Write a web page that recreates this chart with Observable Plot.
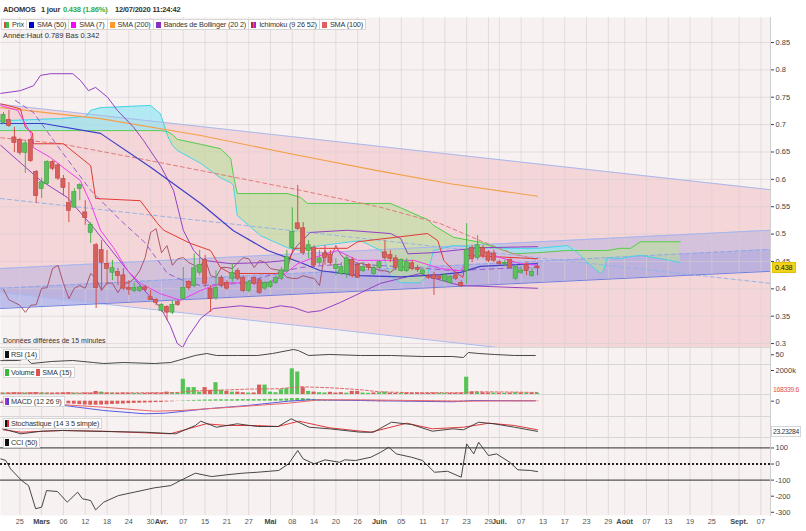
<!DOCTYPE html>
<html><head><meta charset="utf-8">
<script src="https://cdn.jsdelivr.net/npm/d3@7"></script>
<script src="https://cdn.jsdelivr.net/npm/@observablehq/plot@0.6"></script>
<style>
body{margin:0;background:#fff;}
#wrap{position:relative;width:806px;height:531px;overflow:hidden;background:#fff;font-family:"Liberation Sans",Arial,sans-serif;color:#333;}
#wrap svg{position:absolute;left:0;display:block;overflow:visible}
.ov{position:absolute;white-space:nowrap;font-size:7.5px;line-height:9px;}
.hd{position:absolute;top:5px;font-size:7.5px;font-weight:bold;color:#333;white-space:nowrap;letter-spacing:-0.2px}
.it{display:inline-block;border:1px solid #d6d6d6;background:#fff;padding:0 2px 0 2px;margin-right:-1px;font-size:7.3px;line-height:9px;color:#333;vertical-align:top;letter-spacing:-0.15px}
.sw{display:inline-block;width:5px;height:6px;margin-right:3px;vertical-align:-0.5px}
.tag{position:absolute;white-space:nowrap;font-size:7.3px;line-height:9px;background:#fff;border:1px solid #d6d6d6;padding:0 2px 0 1px;color:#333;letter-spacing:-0.15px}
</style></head><body><div id="wrap"></div>
<script>
// ---------- DATA ----------
const tickIdx = [0,4,8,12,16,20,24,26,30,34,38,42,46,50,54,58,62,66,70,74,78,82,86,88,92,96,100,104,108,111,115,119,123,127,132,136];
const tickLbl = ["25","Mars","06","12","18","24","30","Avr.","07","15","21","27","Mai","08","14","20","26","Juin","05","11","17","23","29","Juil.","07","13","17","23","29","Août","07","13","19","25","Sept.","07"];
const monthLbl = ["Mars","Avr.","Mai","Juin","Juil.","Août","Sept."];
const priceTicks = [0.3,0.35,0.4,0.45,0.5,0.55,0.6,0.65,0.7,0.75,0.8,0.85];

const candleStart = -3;
const open  = [.704,.708,.676,.671,.649,.671,.613,.583,.592,.631,.625,.600,.556,.549,.583,.539,.503,.479,.470,.445,.430,.430,.424,.401,.397,.397,.402,.384,.379,.360,.366,.357,.375,.382,.412,.406,.430,.452,.399,.384,.419,.410,.419,.432,.419,.397,.419,.415,.401,.404,.411,.419,.433,.475,.519,.510,.470,.474,.448,.464,.461,.437,.428,.428,.452,.443,.433,.443,.428,.439,.466,.461,.455,.433,.433,.446,.437,.428,.422,.424,.422,.415,.411,.424,.410,.433,.474,.457,.474,.466,.464,.448,.446,.452,.419,.430,.443,.424,.440];
const high  = [.722,.726,.695,.675,.671,.675,.616,.602,.634,.634,.629,.607,.594,.583,.592,.561,.521,.483,.488,.470,.452,.437,.437,.415,.410,.408,.406,.397,.382,.373,.369,.378,.379,.439,.415,.464,.470,.461,.406,.433,.424,.415,.446,.437,.424,.415,.422,.419,.413,.415,.424,.439,.470,.548,.589,.521,.488,.479,.470,.479,.470,.455,.448,.461,.457,.448,.448,.446,.443,.452,.488,.470,.461,.455,.455,.452,.443,.437,.426,.430,.426,.428,.424,.428,.415,.519,.479,.497,.479,.470,.470,.452,.452,.455,.444,.441,.448,.437,.448];
const low   = [.700,.695,.649,.644,.611,.631,.556,.565,.589,.616,.598,.570,.521,.547,.561,.516,.483,.364,.397,.406,.415,.406,.397,.388,.393,.393,.395,.379,.369,.357,.342,.353,.368,.379,.397,.402,.424,.402,.357,.379,.402,.397,.411,.415,.393,.393,.406,.390,.397,.401,.408,.415,.430,.470,.506,.461,.455,.439,.443,.443,.443,.424,.424,.419,.420,.419,.430,.433,.424,.433,.452,.448,.433,.430,.430,.433,.430,.424,.417,.388,.415,.411,.408,.415,.402,.408,.448,.452,.455,.448,.448,.442,.441,.437,.415,.426,.424,.421,.424];
const close = [.717,.698,.667,.649,.665,.634,.570,.594,.631,.620,.602,.585,.543,.576,.589,.530,.516,.402,.448,.437,.437,.424,.401,.399,.401,.402,.399,.380,.375,.370,.357,.370,.371,.401,.402,.437,.443,.410,.382,.401,.406,.401,.428,.419,.397,.411,.410,.393,.410,.411,.419,.433,.457,.503,.510,.466,.479,.443,.455,.457,.448,.443,.439,.455,.424,.421,.439,.439,.437,.448,.457,.455,.439,.452,.448,.437,.435,.433,.421,.419,.419,.424,.421,.419,.406,.470,.455,.479,.461,.452,.452,.446,.447,.439,.439,.433,.433,.430,.438];
const volume = [100,120,150,130,110,140,160,120,100,90,110,130,150,100,80,120,110,250,200,120,100,90,110,100,90,80,90,110,120,100,200,150,120,1270,575,575,200,575,350,985,350,260,200,200,150,120,130,785,785,200,150,400,490,2140,1880,575,260,200,150,130,180,120,150,110,260,260,120,100,130,150,200,120,100,90,110,100,120,90,100,130,110,90,100,110,120,1440,200,180,150,130,120,110,100,120,150,130,110,120,100];

const sma200 = [[-3.5,.731],[14.8,.711],[33.2,.680],[51.5,.643],[65.6,.616],[79,.592],[95,.569]];
const sma100 = [[-3.5,.676],[7.5,.665],[24,.634],[33.2,.616],[51.5,.580],[66.2,.549],[77.2,.519],[84.5,.488],[90.6,.464],[95,.453]];
const sma50  = [[-3.5,.702],[4.3,.702],[14.8,.684],[24,.622],[33.2,.556],[39.2,.506],[45.5,.470],[51.5,.448],[55.2,.433],[62.5,.424],[69.9,.422],[77.2,.426],[80.9,.430],[84.5,.441],[95,.446]];
const sma7   = [[-3.5,.735],[-0.4,.726],[2,.684],[2.5,.658],[5.6,.640],[8.7,.616],[11.1,.598],[13,.556],[14.8,.507],[17.2,.475],[19.8,.433],[22.1,.410],[25.8,.391],[29.5,.379],[33.2,.397],[36.8,.410],[39.2,.411],[45.5,.411],[47.8,.421],[51,.446],[53.9,.457],[58.3,.470],[62,.452],[66.2,.452],[72.3,.452],[77.2,.437],[80.9,.433],[82.2,.452],[84.5,.470],[88.2,.457],[91.9,.446],[95,.443]];
const bbUpper = [[-3.5,.757],[0.1,.762],[2.5,.771],[3.8,.790],[5.6,.793],[9.7,.793],[11.1,.781],[12.6,.762],[13.9,.768],[16.1,.750],[17.9,.726],[20.9,.695],[22.7,.671],[25.8,.625],[28.2,.580],[30,.507],[31.9,.470],[33.7,.452],[38.7,.446],[44.7,.448],[49.1,.452],[50.9,.479],[53.3,.503],[60.1,.507],[68,.501],[69.9,.492],[71.2,.464],[75.9,.466],[84,.475],[95,.477]];
const bbLower = [[-3.5,.662],[3.8,.598],[8.7,.567],[13.5,.512],[19.8,.433],[23.4,.391],[25.8,.366],[27.6,.333],[28.9,.300],[29.9,.293],[30.8,.311],[33.2,.346],[35.5,.364],[40.5,.369],[45.5,.364],[47.8,.369],[50.2,.366],[52.8,.357],[55.2,.360],[58.8,.375],[66.2,.410],[73.5,.428],[75.4,.421],[80.9,.406],[95,.401]];
const bbMid = [[-0.8,.744],[2.5,.722],[7.5,.653],[13,.580],[18.5,.525],[22.9,.485],[27.1,.428],[30,.415],[33.2,.406],[40.5,.410],[47.8,.430],[51.5,.439],[60.1,.446],[72.3,.439],[79.6,.433],[88.2,.437],[95,.439]];
const tenkan = [[-3.5,.738],[0.1,.729],[1,.695],[2.3,.685],[2.5,.665],[8,.665],[13,.625],[13.9,.565],[22.1,.561],[25.3,.519],[26.4,.507],[31.3,.483],[35,.470],[36.8,.439],[38.7,.428],[47.3,.428],[49.1,.439],[50.2,.474],[60.1,.474],[62,.486],[74.8,.501],[76.7,.488],[77.8,.452],[79.6,.433],[81.3,.421],[82,.461],[95,.455]];
const kumoIdx = [-3.55,7.5,12.1,13,14.8,24,25.8,27.1,28,28.9,33.2,36.8,38.7,39.2,39.9,44.2,49.1,51.5,52.8,55.2,62.5,66.2,68,69.9,73.5,74.8,75.9,79.6,84.5,90.6,95,100.5,102.3,104.2,106.6,107.1,107.8,110.2,112.1,113.9,117.6,121.2];
const senkouA = [.689,.689,.689,.689,.689,.689,.689,.687,.682,.673,.664,.656,.638,.607,.574,.574,.574,.567,.556,.556,.556,.556,.556,.548,.532,.527,.516,.494,.485,.464,.466,.470,.470,.470,.470,.470,.470,.474,.474,.486,.486,.486];
const senkouB = [.707,.711,.715,.726,.731,.735,.720,.680,.662,.653,.629,.603,.594,.589,.534,.497,.475,.470,.475,.479,.488,.470,.424,.411,.411,.424,.470,.479,.475,.474,.474,.479,.466,.448,.428,.433,.457,.455,.459,.461,.455,.448];
const regUpper = [[-3.551,.737],[137.76,.581]];
const regMid   = [[-3.551,.565],[137.76,.410]];
const regLower = [[-3.551,.393],[137.76,.238]];
const chanTop  = [[-3.551,.437],[137.76,.507]];
const chanMid  = [[-3.551,.401],[137.76,.472]];
const chanBot  = [[-3.551,.364],[137.76,.432]];

const rsi = [[-3.5,26],[-0.25,26.5],[1.2,34.7],[2.1,14.1],[5.8,22.4],[9.7,26.5],[13.5,18.2],[15.4,14.1],[19,18.2],[24.7,14.1],[27.7,18.2],[32.2,47.1],[34.3,55.3],[36.1,47.1],[39.9,47.1],[43.6,47.1],[46.4,55.3],[50.2,71.8],[51.1,67.6],[53,47.1],[56.8,51.2],[62.5,47.1],[68.2,47.1],[73.9,42.9],[79.4,42.9],[81.4,38.8],[82.3,59.4],[84.2,55.3],[87.1,51.2],[90.8,47.1],[94.6,47.1]];
const volSma = [[-3.5,130],[15,130],[28.5,150],[32,300],[36,350],[42,450],[47.5,480],[51.5,650],[57,560],[62.5,400],[66,220],[72,150],[81.5,140],[83,230],[91,200],[95,168.3]];
const macdLine = [[-3.5,-.0065],[8.2,-.0215],[15.4,-.0465],[22.9,-.063],[26.7,-.060],[34.3,-.038],[41.8,-.0215],[49.3,0],[53,.007],[62.5,.0035],[71.9,0],[79.4,-.003],[83.3,.0035],[94.6,.002]];
const macdSignal = [[-3.5,-.004],[8.2,-.018],[15.4,-.030],[24.7,-.050],[29.5,-.0465],[38.9,-.030],[49.3,-.010],[55,.007],[62.5,.007],[81.4,0],[94.6,.002]];
const macdHist = [-.002,-.003,-.004,-.005,-.006,-.007,-.008,-.009,-.010,-.011,-.012,
 -.012,-.013,-.015,-.017,-.019,-.020,-.020,-.019,-.018,-.016,-.015,-.014,-.012,
 -.011,-.010,-.009,-.008,-.007,-.006,-.004,-.003,-.001,
 .002,.003,.004,.005,.006,.006,.007,.007,.007,.007,.008,.008,.008,.008,.008,.009,.009,.009,.010,.011,.013,.014,.013,
 .011,.009,.007,.005,.004,.003,.002,.002,.001,.001,
 -.001,-.002,-.002,-.003,-.003,-.002,-.002,-.002,-.003,-.003,-.003,-.003,-.004,-.004,-.004,-.004,-.004,-.004,-.005,
 .002,.003,.003,.002,.001,0,-.001,-.001,-.001,-.002,-.002,-.002,-.002,-.002];
const stochK = [[-3.1,33.1],[0.2,14.1],[4,24],[7.8,26.7],[15.4,22.9],[22.9,20.2],[28.6,14.1],[32.2,45.7],[33.2,62.1],[36.1,39.2],[39.9,52.2],[43.6,41.9],[47.4,41.9],[49.8,71.2],[53.1,39.2],[56.8,33.1],[62.5,20.2],[64.9,20.2],[68.2,58.3],[71.9,49.5],[75.7,24],[79.5,33.1],[81.4,29.3],[84.2,58.3],[87,52.2],[90.8,39.2],[95,23.2]];
const stochD = [[-3.1,29.3],[0.2,20.2],[7.8,26.7],[15.3,24],[27.6,14.1],[34.2,52.2],[38,45.7],[43.6,45.7],[47.4,41.9],[51.2,62.1],[56.8,37],[64.4,20.2],[71,54.5],[75.7,33.1],[81.4,39.2],[86.1,54.5],[90.8,45.7],[95,29.3]];
const cci = [[-3.5,32],[-2.6,22],[-1.7,-30],[0.3,-102],[1.6,-134],[2.9,-278],[4,-268],[4.9,-165],[6.9,-171],[8.7,-237],[10.6,-175],[11.5,-216],[13,-227],[13.9,-285],[15.4,-237],[18.1,-196],[21,-175],[24.7,-148],[27.7,-134],[29.5,-102],[32.2,-57],[35.2,-78],[37.9,-67],[40.9,-57],[43.6,-51],[47.5,-40],[49.3,1],[51,84],[52,32],[54,1],[56,26],[58.7,11],[59.6,26],[61.6,22],[64.4,42],[66.2,73],[67.7,104],[69.1,63],[71.9,42],[73.9,22],[76.1,-51],[78.5,-45],[81,-82],[82,125],[83.3,63],[84.2,135],[86,53],[87.5,63],[89.9,11],[91.4,-36],[93.7,-40],[95,-47]];
const cciTicks = [100,0,-100,-200,-300];

// ---------- RENDER ----------
const W = 806, MR = 36, XD = [-3.551, 137.76];
const FONT = '"Liberation Sans",Arial,sans-serif';
const BG = "#f7f1f2", GRID = "#e3d9dc";
const GREEN = "#4cb34c", RED = "#d2504c";
const wrap = document.getElementById("wrap");
const P = a => ({i:a[0], v:a[1]});
const candles = open.map((o,k)=>({i:k+candleStart, o, h:high[k], l:low[k], c:close[k], pc: k>0?close[k-1]:o}));
const baseStyle = {fontFamily:FONT, fontSize:"7.5px", background:"transparent", color:"#333", overflow:"visible"};
function put(svg, top){ svg.style.top = top+"px"; wrap.appendChild(svg); return svg; }
function gridX(){ return Plot.ruleX(tickIdx, {stroke:GRID, strokeWidth:1}); }
function rAxis(ticks, fmt){ return Plot.axisY(ticks, {anchor:"right", label:null, tickSize:3, tickPadding:2, tickFormat:fmt, fontSize:7.5, color:"#444"}); }
const lineOf = (arr, o) => Plot.line(arr.map(P), {x:"i", y:"v", ...o});
const band = (a, b) => a.map((p,k)=>({i:p[0], lo:b[k][1], hi:p[1]}));
const kumo = kumoIdx.map((i,k)=>({i, a:senkouA[k], b:senkouB[k], m:Math.max(senkouA[k], senkouB[k])}));
const chikou = close.map((c,k)=>({i:k+candleStart-26, v:c})).filter(d=>d.i>=-3.6);

const main = Plot.plot({
  width:W, height:330, marginTop:0, marginBottom:0, marginLeft:0, marginRight:MR,
  x:{domain:XD, axis:null}, y:{domain:[0.2928,0.8957], axis:null}, style:baseStyle,
  marks:[
    Plot.frame({fill:BG, stroke:null}),
    Plot.areaY(band(regUpper, regLower), {x:"i", y1:"lo", y2:"hi", fill:"#f5d6d8", clip:true}),
    Plot.areaY(band(chanTop, chanBot), {x:"i", y1:"lo", y2:"hi", fill:"#8f94e6", fillOpacity:0.32, clip:true}),
    Plot.areaY(band(chanMid, chanBot), {x:"i", y1:"lo", y2:"hi", fill:"#7682e0", fillOpacity:0.25, clip:true}),
    Plot.ruleY(priceTicks, {stroke:"#d9cdd1", strokeOpacity:0.6}),
    Plot.ruleX(tickIdx, {stroke:"#d9cdd1", strokeOpacity:0.6}),
    Plot.areaY(kumo, {x:"i", y1:"b", y2:"m", fill:"#b9dd9c", fillOpacity:0.6}),
    Plot.areaY(kumo, {x:"i", y1:"a", y2:"m", fill:"#96e6f2", fillOpacity:0.7}),
    lineOf(regUpper, {stroke:"#a9b8ec", strokeWidth:1, clip:true}),
    lineOf(regLower, {stroke:"#a9b8ec", strokeWidth:1, clip:true}),
    lineOf(regMid, {stroke:"#95b4e6", strokeWidth:1, strokeDasharray:"4,3", clip:true}),
    lineOf(chanTop, {stroke:"#a4b6f0", strokeWidth:1, clip:true}),
    lineOf(chanBot, {stroke:"#6f80e0", strokeWidth:1, clip:true}),
    lineOf(chanMid, {stroke:"#8ea8ec", strokeWidth:1, strokeDasharray:"4,3", clip:true}),
    Plot.line(kumo, {x:"i", y:"a", stroke:"#55cc4e", strokeWidth:1}),
    Plot.line(kumo, {x:"i", y:"b", stroke:"#48d4e6", strokeWidth:1}),
    lineOf(sma200, {stroke:"#f2a04a", strokeWidth:1.1}),
    lineOf(sma100, {stroke:"#e27a7a", strokeWidth:1, strokeDasharray:"4,3"}),
    Plot.line(chikou, {x:"i", y:"v", stroke:"#a24a5e", strokeWidth:0.9}),
    lineOf(bbUpper, {stroke:"#9440c4", strokeWidth:1}),
    lineOf(bbLower, {stroke:"#9440c4", strokeWidth:1, clip:true}),
    lineOf(bbMid, {stroke:"#9a5ccf", strokeWidth:1, strokeDasharray:"5,4"}),
    lineOf(sma50, {stroke:"#3d3dc8", strokeWidth:1.2}),
    lineOf(tenkan, {stroke:"#e23a34", strokeWidth:1}),
    lineOf(sma7, {stroke:"#f23cf0", strokeWidth:1}),
    Plot.ruleX(candles, {x:"i", y1:"l", y2:"h", stroke:d=>d.c>=d.o?GREEN:RED, strokeWidth:1}),
    Plot.rect(candles, {x1:d=>d.i-0.38, x2:d=>d.i+0.38, y1:d=>Math.min(d.o,d.c)-0.0006, y2:d=>Math.max(d.o,d.c)+0.0006,
      fill:d=>d.c>=d.o?"#5cc05c":"#d8605c", stroke:d=>d.c>=d.o?"#3f9f3f":"#bb4440", strokeWidth:0.6}),
    Plot.frame({anchor:"right", stroke:"#cfcfcf"}),
    rAxis(priceTicks, d=>String(+d.toFixed(2)))
  ]
});
put(main, 17);
const yMain = main.scale("y");

const rsiPlot = Plot.plot({
  width:W, height:17, marginTop:0, marginBottom:0, marginLeft:0, marginRight:MR,
  x:{domain:XD, axis:null}, y:{domain:[10,80], axis:null}, style:baseStyle,
  marks:[Plot.frame({fill:BG, stroke:null}), gridX(), Plot.frame({anchor:"top", stroke:"#d6d6d6"}),
    lineOf(rsi, {stroke:"#333", strokeWidth:0.9}), Plot.frame({anchor:"right", stroke:"#cfcfcf"}), rAxis([50], d=>String(d))]
});
put(rsiPlot, 347);

const volPlot = Plot.plot({
  width:W, height:30, marginTop:0, marginBottom:0, marginLeft:0, marginRight:MR,
  x:{domain:XD, axis:null}, y:{domain:[0,2500], axis:null}, style:baseStyle,
  marks:[Plot.frame({fill:BG, stroke:null}), gridX(), Plot.frame({anchor:"top", stroke:"#d6d6d6"}),
    Plot.rect(candles, {x1:d=>d.i-0.38, x2:d=>d.i+0.38, y1:0, y2:(d,k)=>volume[k], fill:d=>d.c>=d.pc?"#55c455":"#d95c58"}),
    lineOf(volSma, {stroke:"#e06a6a", strokeWidth:1, strokeDasharray:"3,2"}),
    Plot.frame({anchor:"right", stroke:"#cfcfcf"}), rAxis([2000], d=>d+"k")]
});
put(volPlot, 364);

const macdPlot = Plot.plot({
  width:W, height:22, marginTop:0, marginBottom:0, marginLeft:0, marginRight:MR,
  x:{domain:XD, axis:null}, y:{domain:[-0.0765,0.0335], axis:null}, style:baseStyle,
  marks:[Plot.frame({fill:BG, stroke:null}), gridX(), Plot.frame({anchor:"top", stroke:"#d6d6d6"}),
    Plot.rect(macdHist.map((v,k)=>({i:k+candleStart, v})), {x1:d=>d.i-0.35, x2:d=>d.i+0.35, y1:0, y2:"v", fill:d=>d.v>=0?"#55c455":"#d95c58"}),
    lineOf(macdLine, {stroke:"#5a5ae0", strokeWidth:1}),
    lineOf(macdSignal, {stroke:"#e86a6a", strokeWidth:1}),
    Plot.frame({anchor:"right", stroke:"#cfcfcf"}), rAxis([0], d=>"0")]
});
put(macdPlot, 394);

const stochPlot = Plot.plot({
  width:W, height:21, marginTop:0, marginBottom:0, marginLeft:0, marginRight:MR,
  x:{domain:XD, axis:null}, y:{domain:[0,80], axis:null}, style:baseStyle,
  marks:[Plot.frame({fill:BG, stroke:null}), gridX(), Plot.frame({anchor:"top", stroke:"#d6d6d6"}),
    lineOf(stochD, {stroke:"#e23a3a", strokeWidth:1}),
    lineOf(stochK, {stroke:"#333", strokeWidth:0.9}),
    Plot.frame({anchor:"right", stroke:"#cfcfcf"})]
});
put(stochPlot, 416);

const tickObjs = tickIdx.map((i,k)=>({i, t:tickLbl[k], b:monthLbl.includes(tickLbl[k])}));
const cciPlot = Plot.plot({
  width:W, height:94, marginTop:0, marginBottom:16, marginLeft:0, marginRight:MR,
  x:{domain:XD, axis:null}, y:{domain:[-320,165], axis:null}, style:baseStyle,
  marks:[Plot.frame({fill:BG, stroke:null}), gridX(), Plot.frame({anchor:"top", stroke:"#d6d6d6"}),
    Plot.ruleY([100,-100], {stroke:"#555", strokeWidth:1.3}),
    Plot.ruleY([0], {stroke:"#222", strokeWidth:2, strokeDasharray:"2,2"}),
    lineOf(cci, {stroke:"#333", strokeWidth:0.9}),
    Plot.frame({anchor:"right", stroke:"#cfcfcf"}), rAxis(cciTicks, d=>String(d)),
    Plot.text(tickObjs.filter(d=>!d.b), {x:"i", text:"t", frameAnchor:"bottom", dy:8, fontSize:7.3, fill:"#555"}),
    Plot.text(tickObjs.filter(d=>d.b), {x:"i", text:"t", frameAnchor:"bottom", dy:8, fontSize:7.3, fontWeight:"bold", fill:"#444"})]
});
put(cciPlot, 437);

// ---------- OVERLAY TEXT ----------
function ov(html, left, top, cls="ov", extra=""){ const d=document.createElement("div"); d.className=cls; d.style.left=left+"px"; d.style.top=top+"px"; if(extra) d.style.cssText+=extra; d.innerHTML=html; wrap.appendChild(d); return d; }
ov("ADOMOS", 3, 5, "hd");
ov("1 jour", 41, 5, "hd");
ov('<span style="color:#3aa93a">0.438 (1.86%)</span>', 63, 5, "hd");
ov("12/07/2020 11:24:42", 115, 5, "hd");
const legendItems = [["linear-gradient(90deg,#d44 50%,#4b4 50%)","Prix"],["#0000cc","SMA (50)"],["#ff00ff","SMA (7)"],["#ff9a2a","SMA (200)"],["#8a2ec0","Bandes de Bollinger (20 2)"],["linear-gradient(90deg,#c22 33%,#2c2 33% 66%,#a2c 66%)","Ichimoku (9 26 52)"],["#e06060","SMA (100)"]];
ov(legendItems.map(([c,t])=>`<span class="it"><span class="sw" style="background:${c}"></span>${t}</span>`).join(""), 1, 19, "ov");
ov("Année:Haut 0.789 Bas 0.342", 3, 31);
ov("Données différées de 15 minutes", 3, 336, "ov", "font-size:7px");
const sw = c => `<span class="sw" style="background:${c};height:7px;width:4px;margin-right:2px"></span>`;
ov(sw("#111")+"RSI (14)", 3, 349, "tag");
ov(sw("#3cb83c")+"Volume "+sw("#e05050")+"SMA (15)", 3, 367, "tag");
ov(sw("linear-gradient(90deg,#a3c 50%,#44c 50%)")+"MACD (12 26 9)", 3, 396, "tag");
ov(sw("linear-gradient(90deg,#111 50%,#e22 50%)")+"Stochastique (14 3 5 simple)", 3, 418, "tag");
ov(sw("#111")+"CCI (50)", 3, 437, "tag");
const yPx = 17 + yMain.apply(0.438);
ov("0.438", 772, yPx-5.5, "tag", "background:#f2d21b;border-color:#e0c000;color:#222;padding:0 2px");
ov("168339.6", 771, 384, "tag", "color:#e05050;border-color:#fff;font-size:6.8px;letter-spacing:-0.3px;padding:0 1px");
ov("23.23284", 771, 426, "tag", "font-size:6.8px;letter-spacing:-0.3px;padding:0 1px");
</script></body></html>
